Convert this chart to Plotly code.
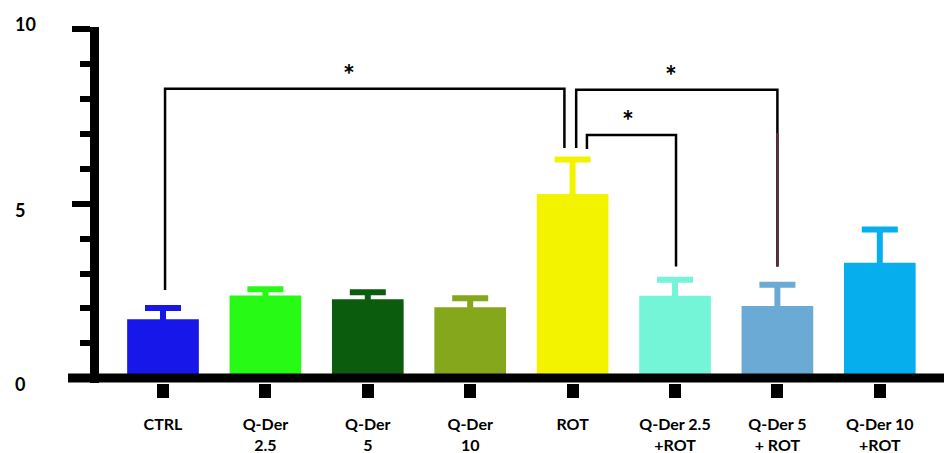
import plotly.graph_objects as go

# ---- data ----
categories = ["CTRL", "Q-Der 2.5", "Q-Der 5", "Q-Der 10", "ROT",
              "Q-Der 2.5 +ROT", "Q-Der 5 + ROT", "Q-Der 10 +ROT"]
tick_labels = ["CTRL", "Q-Der<br>2.5", "Q-Der<br>5", "Q-Der<br>10", "ROT",
               "Q-Der 2.5<br>+ROT", "Q-Der 5<br>+ ROT", "Q-Der 10<br>+ROT"]
means = [1.69, 2.37, 2.26, 2.03, 5.28, 2.36, 2.07, 3.31]
errors = [0.32, 0.18, 0.20, 0.26, 0.99, 0.46, 0.61, 0.95]
y_ticks = [0, 5, 10]
y_minor = [1, 2, 3, 4, 6, 7, 8, 9]
# significance comparisons: (group a, group b, label)
comparisons = [(0, 4, "*"), (4, 6, "*"), (4, 5, "*")]

# ---- styles ----
colors = ["#1717ea", "#27fa15", "#0b5c0d", "#85a71b", "#f3f300",
          "#74f5d7", "#6aaad5", "#06aeee"]
# bracket geometry (y level, leg offsets, leg bottoms, star x, tinted leg part)
bracket_geom = [
    dict(level=8.30, dx0=0.02, dx1=-0.08, b0=2.53, b1=6.60, sx=1.82, tint=None),
    dict(level=8.27, dx0=0.035, dx1=0.0, b0=6.60, b1=3.20, sx=4.96, tint=7.03),
    dict(level=6.97, dx0=0.14, dx1=0.01, b0=6.57, b1=3.20, sx=4.54, tint=None),
]

positions = list(range(len(categories)))

fig = go.Figure()
for i, cat in enumerate(categories):
    # error bar runs from the axis (hidden inside the bar) up to mean + error
    fig.add_trace(go.Bar(
        x=[positions[i]], y=[means[i]], name=cat, width=0.70,
        marker=dict(color=colors[i], line=dict(width=0)),
        error_y=dict(type="data", array=[errors[i]], arrayminus=[means[i]],
                     symmetric=False, color=colors[i], thickness=6, width=18),
    ))

shapes = []
# x axis line extending left past y axis
shapes.append(dict(type="line", xref="paper", yref="y", x0=-0.0367, x1=1,
                   y0=0, y1=0, line=dict(color="black", width=9), layer="above"))
annotations = []
for (a, b, lab), g in zip(comparisons, bracket_geom):
    xa = positions[a] + g["dx0"]
    xb = positions[b] + g["dx1"]
    path = f"M {xa},{g['b0']} L {xa},{g['level']} L {xb},{g['level']} L {xb},{g['b1']}"
    shapes.append(dict(type="path", xref="x", yref="y", path=path,
                       line=dict(color="black", width=2.5), layer="above"))
    if g["tint"] is not None:
        shapes.append(dict(type="line", xref="x", yref="y", x0=xb, x1=xb,
                           y0=g["tint"], y1=g["b1"],
                           line=dict(color="#5e2a38", width=2.5), layer="above"))
    annotations.append(dict(x=g["sx"], y=g["level"], xref="x", yref="y",
                            text=lab, showarrow=False, yanchor="bottom",
                            yshift=-4, font=dict(family="Lato", size=28,
                                                 color="black", weight="bold")))

ytick_shift = {0: -6, 5: -6, 10: 5}
for v in y_ticks:
    annotations.append(dict(x=-0.1018, y=v, xref="paper", yref="y",
                            text=str(v), showarrow=False, xanchor="left",
                            yanchor="middle", yshift=ytick_shift[v],
                            font=dict(family="Lato", size=18, color="black",
                                      weight="bold")))

fig.update_layout(
    width=944, height=453,
    margin=dict(l=99, r=0, t=27, b=70),
    plot_bgcolor="white", paper_bgcolor="white",
    showlegend=False, barmode="overlay",
    shapes=shapes, annotations=annotations,
    xaxis=dict(range=[-0.625, 7.627], tickvals=positions, ticktext=tick_labels,
               ticks="outside", ticklen=14, tickwidth=12, tickcolor="black",
               showline=False, showgrid=False, zeroline=False, automargin=False,
               tickfont=dict(family="Lato", size=16, color="black", weight="bold"),
               ticklabelstandoff=13),
    yaxis=dict(range=[-0.14, 10.07], tickvals=y_ticks, ticks="outside",
               ticklen=18, tickwidth=6, tickcolor="black", automargin=False,
               showline=True, linewidth=9, linecolor="black",
               showgrid=False, zeroline=False, showticklabels=False,
               minor=dict(tickvals=y_minor, ticks="outside", ticklen=10,
                          tickwidth=6, tickcolor="black", showgrid=False)),
)

fig.write_html("out.html", config={"displayModeBar": False},
               post_script="document.body.style.margin='0';document.body.style.padding='0';")
